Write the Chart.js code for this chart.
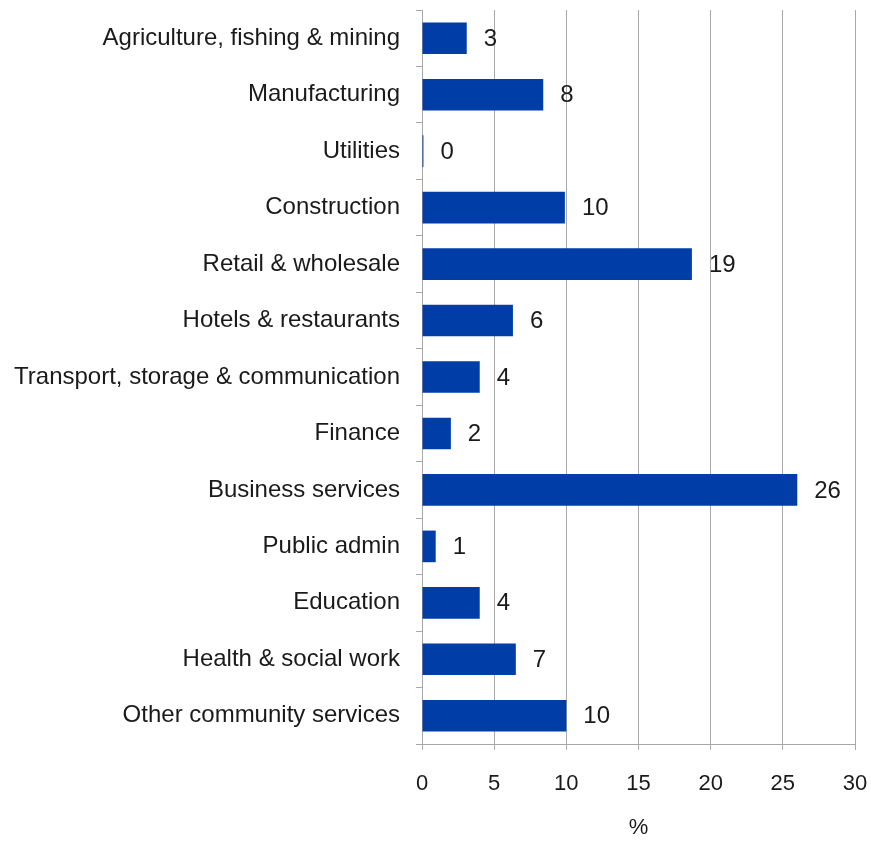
<!DOCTYPE html>
<html>
<head>
<meta charset="utf-8">
<script src="https://cdn.jsdelivr.net/npm/chart.js@4/dist/chart.umd.min.js"></script>
<style>
    html, body { margin: 0; padding: 0; background: #fff; }
    #wrap { width: 871px; height: 841px; }
</style>
</head>
<body>
<div id="wrap"><canvas id="sectorChart" width="871" height="841"></canvas></div>
<script>
const categories = [
    'Agriculture, fishing & mining',
    'Manufacturing',
    'Utilities',
    'Construction',
    'Retail & wholesale',
    'Hotels & restaurants',
    'Transport, storage & communication',
    'Finance',
    'Business services',
    'Public admin',
    'Education',
    'Health & social work',
    'Other community services'
];

// share of employment by sector, %
const shares = [3.1, 8.4, 0.1, 9.9, 18.7, 6.3, 4.0, 2.0, 26.0, 0.95, 4.0, 6.5, 10.0];

const xMin = 0;
const xMax = 30;
const xStep = 5;
const xTitle = '%';

const barColor = '#003da6';
const gridColor = '#a8a8a8';
const textColor = '#1a1a1a';
const fontFamily = '"Liberation Sans", Arial, sans-serif';

// value labels to the right of each bar
const valueLabels = {
    id: 'valueLabels',
    afterDatasetsDraw(chart) {
        const ctx = chart.ctx;
        const meta = chart.getDatasetMeta(0);
        ctx.save();
        ctx.font = '24px ' + fontFamily;
        ctx.fillStyle = textColor;
        ctx.textAlign = 'left';
        ctx.textBaseline = 'middle';
        meta.data.forEach((bar, i) => {
            ctx.fillText(String(Math.round(shares[i])), bar.x + 17, bar.y + 1);
        });
        ctx.restore();
    }
};

const ctx = document.getElementById('sectorChart');

new Chart(ctx, {
    type: 'bar',
    data: {
        labels: categories,
        datasets: [{
            data: shares,
            backgroundColor: barColor,
            borderWidth: 0,
            categoryPercentage: 1,
            barPercentage: 0.56
        }]
    },
    options: {
        indexAxis: 'y',
        responsive: false,
        animation: false,
        layout: {
            padding: { left: 0, right: 16, top: 10, bottom: 0 }
        },
        plugins: {
            legend: { display: false },
            tooltip: { enabled: false }
        },
        scales: {
            x: {
                min: xMin,
                max: xMax,
                afterFit(scale) {
                    scale.height = 97;
                    scale.paddingLeft = 0;
                    scale.paddingRight = 0;
                },
                ticks: {
                    stepSize: xStep,
                    color: textColor,
                    font: { family: fontFamily, size: 22 },
                    padding: 21
                },
                grid: {
                    color: gridColor,
                    lineWidth: 1,
                    tickLength: 6
                },
                border: { color: gridColor, width: 1 },
                title: {
                    display: true,
                    text: xTitle,
                    color: textColor,
                    font: { family: fontFamily, size: 22 },
                    padding: { top: 12, bottom: 0 }
                }
            },
            y: {
                afterFit(scale) {
                    scale.width = 422;
                    scale.paddingTop = 0;
                    scale.paddingBottom = 0;
                },
                ticks: {
                    color: textColor,
                    font: { family: fontFamily, size: 24 },
                    padding: 16
                },
                grid: {
                    drawOnChartArea: false,
                    color: gridColor,
                    tickLength: 6,
                    offset: true
                },
                border: { color: gridColor, width: 1 }
            }
        }
    },
    plugins: [valueLabels]
});
</script>
</body>
</html>
